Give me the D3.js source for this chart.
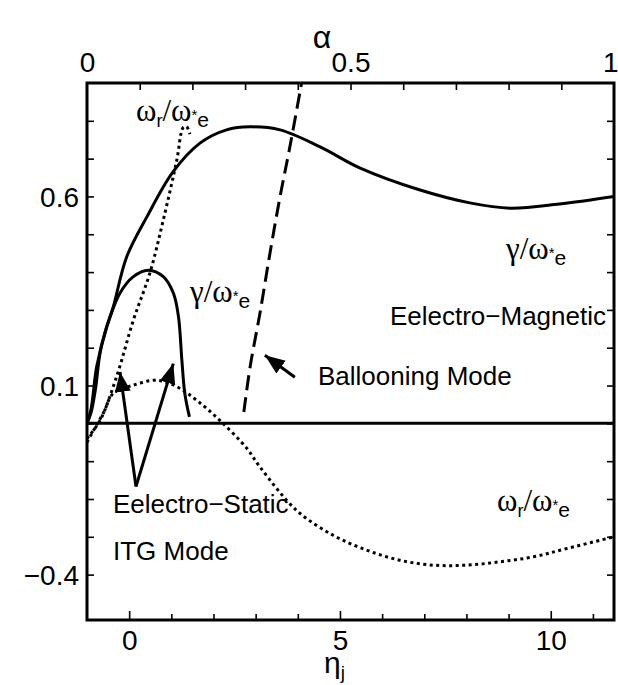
<!DOCTYPE html>
<html><head><meta charset="utf-8">
<script src="https://cdn.jsdelivr.net/npm/d3@7"></script>
<style>
body{margin:0;background:#fff}
svg{display:block}
text{font-family:"Liberation Sans",Arial,Helvetica,sans-serif;fill:#000}
</style>
</head><body>
<svg id="c" width="618" height="685"></svg>
<script>
// ---------- data ----------
const etaTickValues = [0,1,2,3,4,5,6,7,8,9,10,11];
const etaLabelTicks = [0,5,10];
const valTickValues = [-0.4,-0.3,-0.2,-0.1,0,0.1,0.2,0.3,0.4,0.5,0.6,0.7,0.8];
const valLabelTicks = [0.6,0.1,-0.4];
const valLabelText = ["0.6","0.1","\u22120.4"];
const alphaTickValues = [0.1,0.2,0.3,0.4,0.5,0.6,0.7,0.8,0.9];
const alphaLabelTicks = [0,0.5,1];
const alphaLabelText = ["0","0.5","1"];

// electromagnetic growth rate (solid, large)
const emGammaEta = [-1,-0.9,-0.8,-0.69,-0.55,-0.38,-0.06,0.42,1.04,1.68,2.31,2.87,3.58,4.53,5.48,6.9,8.08,9.03,10.2,11.5];
const emGammaVal = [0,0.03,0.09,0.186,0.25,0.307,0.44,0.546,0.665,0.741,0.776,0.784,0.776,0.731,0.675,0.617,0.583,0.569,0.58,0.60];
// electrostatic growth rate (solid, small)
const esGammaEta = [-1,-0.9,-0.77,-0.53,-0.22,0.1,0.45,0.81,1.05,1.17,1.25,1.32,1.43];
const esGammaVal = [0,0.04,0.15,0.255,0.344,0.388,0.405,0.388,0.344,0.282,0.167,0.079,0.017];
// electrostatic real frequency (dotted, steep)
const esOmegaEta = [-1,-0.69,-0.3,0.1,0.49,0.81,1.13,1.28,1.36,1.44];
const esOmegaVal = [-0.04,0.008,0.123,0.273,0.397,0.538,0.696,0.782,0.785,0.765];
// electromagnetic real frequency (dotted)
const emOmegaEta = [-1,-0.8,-0.6,-0.38,0.1,0.65,1.13,1.6,2.15,2.79,3.1,3.97,4.84,5.63,6.42,7.21,8.0,8.8,9.59,10.38,11.5];
const emOmegaVal = [-0.05,-0.01,0.03,0.079,0.101,0.114,0.097,0.061,0.008,-0.066,-0.115,-0.23,-0.296,-0.335,-0.362,-0.375,-0.375,-0.366,-0.353,-0.331,-0.30];
// ballooning mode (dashed)
const ballEta = [2.72,2.87,3.1,3.34,3.58,3.81,4.09];
const ballVal = [0.03,0.15,0.29,0.45,0.6,0.73,0.9];
// arrows [tailEta, tailVal, tipEta, tipVal]
const arrowBalloon = [3.93,0.122,3.22,0.18];
const arrowES1 = [0.162,-0.167,-0.217,0.136];
const arrowES2 = [0.162,-0.167,1.047,0.158];

// ---------- layout ----------
const L=87,R=614,T=83,B=620;
const svg=d3.select("#c");
const x=d3.scaleLinear().domain([-1,11.5]).range([L,R]);
const y=d3.scaleLinear().domain([-0.52,0.9]).range([B,T]);
const xa=d3.scaleLinear().domain([0,1]).range([L,R]);

svg.append("defs").append("clipPath").attr("id","clip")
  .append("rect").attr("x",L).attr("y",T).attr("width",R-L).attr("height",B-T);
svg.select("defs").append("marker").attr("id","ah").attr("markerUnits","userSpaceOnUse")
  .attr("markerWidth",22).attr("markerHeight",18).attr("refX",20).attr("refY",9)
  .attr("orient","auto").append("path").attr("d","M0,1 L20,9 L0,17 Z").attr("fill","#000");

const eq=(a,b)=>Math.abs(a-b)<1e-9;
// axes
const gB=svg.append("g").attr("transform",`translate(0,${B})`)
  .call(d3.axisBottom(x).tickValues(etaTickValues).tickSize(-6).tickPadding(10)
  .tickFormat(d=>etaLabelTicks.some(v=>eq(v,d))?String(d):""));
gB.selectAll(".tick line").attr("y2",d=>etaLabelTicks.some(v=>eq(v,d))?-9:-6);
const gL=svg.append("g").attr("transform",`translate(${L},0)`)
  .call(d3.axisLeft(y).tickValues(valTickValues).tickSize(-7).tickPadding(8)
  .tickFormat(d=>{const i=valLabelTicks.findIndex(v=>eq(v,d));return i>=0?valLabelText[i]:"";}));
const gR=svg.append("g").attr("transform",`translate(${R},0)`)
  .call(d3.axisRight(y).tickValues(valTickValues).tickSize(-7).tickFormat(""));
const gT=svg.append("g").attr("transform",`translate(0,${T})`)
  .call(d3.axisTop(xa).tickValues(alphaTickValues).tickSize(-7).tickFormat(""));
const gT2=svg.append("g").attr("transform",`translate(0,${T})`)
  .call(d3.axisTop(xa).tickValues(alphaLabelTicks).tickSize(0).tickPadding(11)
  .tickFormat((d,i)=>alphaLabelText[i]));
[gB,gL,gR,gT,gT2].forEach(g=>{
  g.select(".domain").remove();
  g.selectAll(".tick line").attr("stroke","#000").attr("stroke-width",1.6);
  g.selectAll("text").attr("font-size",28).attr("font-family","Liberation Sans, Arial, sans-serif").attr("fill","#000");
});
gL.selectAll("text").attr("dy","0.36em");
gT2.selectAll(".tick").filter(d=>eq(d,1)).select("text").attr("text-anchor","end").attr("x",618-R);

// zero line
svg.append("line").attr("x1",L).attr("x2",R).attr("y1",y(0)).attr("y2",y(0))
  .attr("stroke","#000").attr("stroke-width",3);

const plot=svg.append("g").attr("clip-path","url(#clip)");
const line=d3.line().x(d=>x(d[0])).y(d=>y(d[1])).curve(d3.curveCatmullRom.alpha(0.5));
function series(ex,vy,dash){
  plot.append("path").datum(ex.map((e,i)=>[e,vy[i]])).attr("d",line)
    .attr("fill","none").attr("stroke","#000").attr("stroke-width",3)
    .attr("stroke-dasharray",dash||null);
}
series(emGammaEta,emGammaVal);
series(esGammaEta,esGammaVal);
series(esOmegaEta,esOmegaVal,"3 3.5");
series(emOmegaEta,emOmegaVal,"3 3.5");
series(ballEta,ballVal,"15 7");

function arrow(a){
  svg.append("line").attr("x1",x(a[0])).attr("y1",y(a[1])).attr("x2",x(a[2])).attr("y2",y(a[3]))
    .attr("stroke","#000").attr("stroke-width",3).attr("marker-end","url(#ah)");
}
arrow(arrowBalloon);arrow(arrowES1);arrow(arrowES2);

// frame
svg.append("rect").attr("x",L).attr("y",T).attr("width",R-L).attr("height",B-T)
  .attr("fill","none").attr("stroke","#000").attr("stroke-width",3);

// labels
function fracLabel(px,py,num,numSub){
  const t=svg.append("text").attr("x",px).attr("y",py).attr("font-size",26);
  t.append("tspan").attr("font-family","Liberation Serif, serif").attr("font-size",31).text(num);
  let shift=0;
  if(numSub){t.append("tspan").attr("font-size",18).attr("dy",6).text(numSub);shift=-6;}
  t.append("tspan").attr("font-family","Liberation Serif, serif").attr("font-size",31).attr("dy",shift).text("/\u03c9");
  t.append("tspan").attr("font-size",15).attr("dy",-1).text("*");
  t.append("tspan").attr("font-size",21).attr("dy",7).text("e");
}
fracLabel(136,121,"\u03c9","r");
fracLabel(190,302,"\u03b3");
fracLabel(506,259,"\u03b3");
fracLabel(497,511,"\u03c9","r");
function lab(px,py,s,anchor){
  svg.append("text").attr("x",px).attr("y",py).attr("font-size",26)
    .attr("text-anchor",anchor||"start").text(s);
}
lab(606,325,"Eelectro\u2212Magnetic","end");
lab(318,385,"Ballooning Mode");
lab(113,513,"Eelectro\u2212Static");
lab(113,560,"ITG Mode");
svg.append("text").attr("x",322).attr("y",48).attr("font-size",32).attr("text-anchor","middle")
  .attr("font-family","Liberation Serif, serif").text("\u03b1");
const eta=svg.append("text").attr("x",324).attr("y",673).attr("font-size",30)
  .attr("font-family","Liberation Serif, serif");
eta.append("tspan").text("\u03b7");
eta.append("tspan").attr("font-size",19).attr("dy",6).attr("font-family","Liberation Sans, Arial, sans-serif").text("j");
</script>
</body></html>
